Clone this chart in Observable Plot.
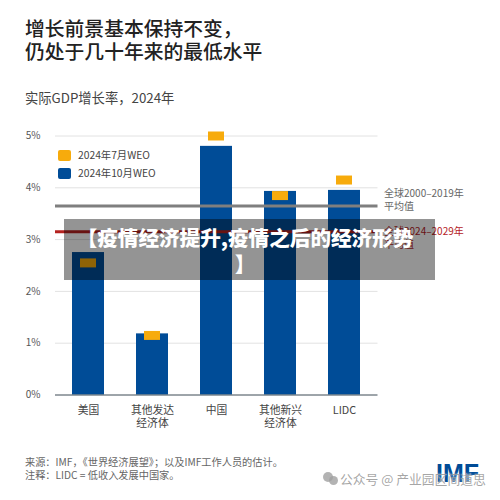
<!DOCTYPE html>
<html><head><meta charset="utf-8">
<script src="https://cdn.jsdelivr.net/npm/d3@7"></script>
<script src="https://cdn.jsdelivr.net/npm/@observablehq/plot@0.6"></script>
<style>
html,body{margin:0;padding:0;background:#fff;}
#wrap{position:relative;width:500px;height:500px;overflow:hidden;font-family:"Noto Sans CJK SC","Noto Sans",sans-serif;font-feature-settings:"palt" 0;}
#wrap svg{position:absolute;left:0;top:0;}
.t{position:absolute;white-space:pre;}
.sw{position:absolute;width:13px;height:11px;border-radius:2px;}
</style></head><body><div id="wrap"></div>
<script>
const categories = ["美国","其他发达\n经济体","中国","其他新兴\n经济体","LIDC"];
const october = [2.75,1.18,4.8,3.93,3.95];
const july = [2.55,1.15,5.0,3.85,4.15];
const globalAvg = 3.65;
const mediumTerm = 3.15;
const yTicks = [0,1,2,3,4,5];
const BLUE="#004c97", ORANGE="#f7ab0c", GREY="#7f7f7f", RED="#b5221f";

const rows = categories.map((c,i)=>({c,oct:october[i],jul:july[i]}));
const chart = Plot.plot({
  width:500,height:500,
  marginLeft:55,marginRight:122.5,marginTop:135.5,marginBottom:105.5,
  style:{fontFamily:'"Noto Sans CJK SC",sans-serif',background:"transparent"},
  x:{domain:categories,paddingInner:.5,paddingOuter:.25,label:null},
  y:{domain:[0,5],label:null},
  marks:[
    Plot.ruleY(yTicks.filter(d=>d>0),{stroke:"#e2e2e2",strokeWidth:1}),
    Plot.barY(rows,{x:"c",y:"oct",fill:BLUE}),
    Plot.tickY(rows,{x:"c",y:"jul",stroke:ORANGE,strokeWidth:9,insetLeft:8,insetRight:8}),
    Plot.ruleY([mediumTerm],{stroke:RED,strokeWidth:3}),
    Plot.ruleY([globalAvg],{stroke:GREY,strokeWidth:3}),
    Plot.ruleY([0],{stroke:"#3d4a55",strokeWidth:1}),
    Plot.axisY({ticks:yTicks,tickFormat:d=>d+"%",tickSize:0,tickPadding:15,fontSize:10,color:"#555"}),
    Plot.axisX({tickSize:0,tickPadding:10,fontSize:10.8,color:"#444",lineHeight:1.2})
  ]
});
const wrap=document.getElementById("wrap");
wrap.appendChild(chart);
function t(s,x,y,css){const d=document.createElement("div");d.className="t";d.textContent=s;d.style.cssText+=`left:${x}px;top:${y}px;`+css;wrap.appendChild(d);return d;}
t("增长前景基本保持不变，\n仍处于几十年来的最低水平",25,16,"font-size:19.8px;line-height:23px;font-weight:500;color:#222;");
t("实际GDP增长率，2024年",25,89,"font-size:13.3px;line-height:18px;color:#444;");
const sw=(x,y,c)=>{const d=document.createElement("div");d.className="sw";d.style.cssText+=`left:${x}px;top:${y}px;background:${c};`;wrap.appendChild(d);};
sw(58,150,ORANGE);sw(58,168,BLUE);
t("2024年7月WEO",78,147,"font-size:10.3px;line-height:16px;color:#444;");
t("2024年10月WEO",78,165,"font-size:10.3px;line-height:16px;color:#444;");
t("全球2000–2019年\n平均值",384,186,"font-size:10px;line-height:13px;color:#666;");
t("全球2024–2029年\n平均值",384,224,"font-size:10px;line-height:13px;color:#b5221f;");
t("来源：IMF，《世界经济展望》；以及IMF工作人员的估计。\n注释：LIDC = 低收入发展中国家。",25,456,"font-size:10.2px;line-height:12.5px;color:#666;");
t("IMF",436,461,"font-size:25px;line-height:24px;font-weight:900;color:#004c97;font-family:'Liberation Sans',sans-serif;");
const ic=(x,y,s)=>{const d=document.createElement("div");d.style.cssText=`position:absolute;left:${x}px;top:${y}px;width:${s}px;height:${s}px;border-radius:50%;background:rgba(160,160,160,.8);`;wrap.appendChild(d);};
ic(323,472,10);ic(329,476,9);
t("公众号 @ 产业园区间道思",340,471,"font-size:12.8px;line-height:16px;color:rgba(150,150,150,.85);text-shadow:0 0 2px #fff;");
const b=document.createElement("div");
b.style.cssText="position:absolute;left:64px;top:219px;width:371px;height:61px;background:rgba(0,0,0,.42);";
wrap.appendChild(b);
t("【疫情经济提升,疫情之后的经济形势\n】",75,223.5,"width:340px;text-align:center;font-size:20.6px;line-height:26.5px;font-weight:900;color:#fff;");
</script></body></html>
